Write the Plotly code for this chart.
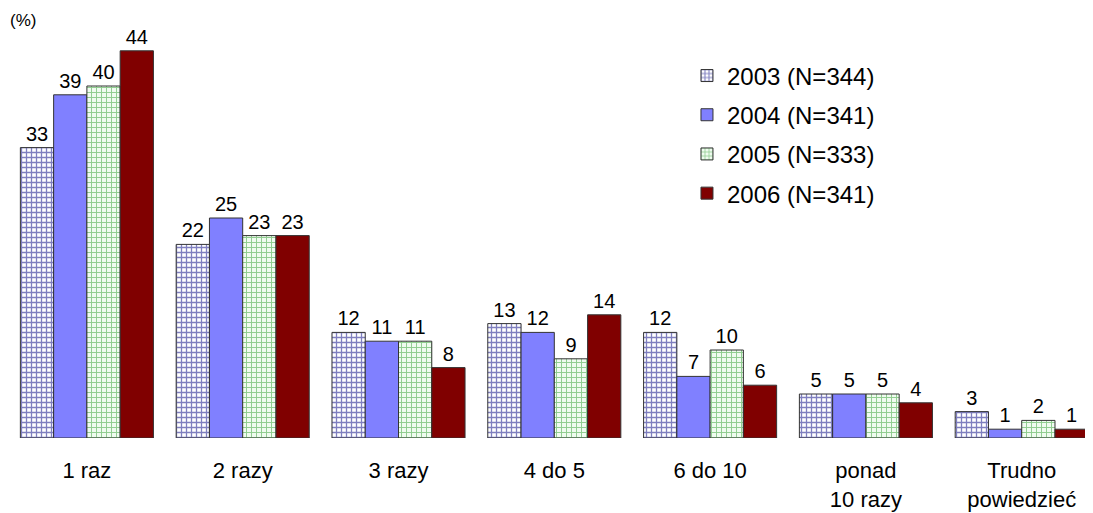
import plotly.graph_objects as go

categories = ["1 raz", "2 razy", "3 razy", "4 do 5", "6 do 10", "ponad<br>10 razy", "Trudno<br>powiedzieć"]
series_names = ["2003 (N=344)", "2004 (N=341)", "2005 (N=333)", "2006 (N=341)"]
v2003 = [33, 22, 12, 13, 12, 5, 3]
v2004 = [39, 25, 11, 12, 7, 5, 1]
v2005 = [40, 23, 11, 9, 10, 5, 2]
v2006 = [44, 23, 8, 14, 6, 4, 1]

values = [v2003, v2004, v2005, v2006]
styles = [
    dict(color="white", pattern=dict(shape="+", fgcolor="#000080", bgcolor="white", size=5, solidity=0.45)),
    dict(color="#8080FF"),
    dict(color="white", pattern=dict(shape="+", fgcolor="#2e9e2e", bgcolor="#f0fbf0", size=5, solidity=0.35)),
    dict(color="#800000"),
]

fig = go.Figure()
for i, (name, vals, st) in enumerate(zip(series_names, values, styles)):
    fig.add_trace(go.Bar(
        x=categories, y=vals, name=name,
        marker=dict(line=dict(color="#333333", width=1), **st),
        text=[str(v) for v in vals], textposition="outside",
        textfont=dict(size=20, color="black", family="Arial, Liberation Sans"),
        cliponaxis=False, legendgroup=str(i),
    ))

fig.update_layout(
    width=1093, height=513,
    margin=dict(l=1, r=2, t=12, b=83),
    barmode="group", bargap=0.146, bargroupgap=0,
    plot_bgcolor="white", paper_bgcolor="white",
    font=dict(family="Arial, Liberation Sans", color="black"),
    showlegend=True,
    legend=dict(x=0.622, y=0.92, xanchor="left", yanchor="top",
                font=dict(size=24), tracegroupgap=5, bgcolor="rgba(0,0,0,0)"),
    xaxis=dict(range=[-0.5, 6.496], showline=False, ticks="", tickfont=dict(size=22),
               showgrid=False, automargin=False, ticklabelstandoff=17),
    yaxis=dict(range=[0, 47.5], visible=False, showgrid=False, automargin=False),
    annotations=[dict(text="(%)", x=-0.001, y=1.0, xref="paper", yref="paper", showarrow=False,
                      xanchor="left", yanchor="middle", font=dict(size=17))],
)
fig.write_html("out.html")
